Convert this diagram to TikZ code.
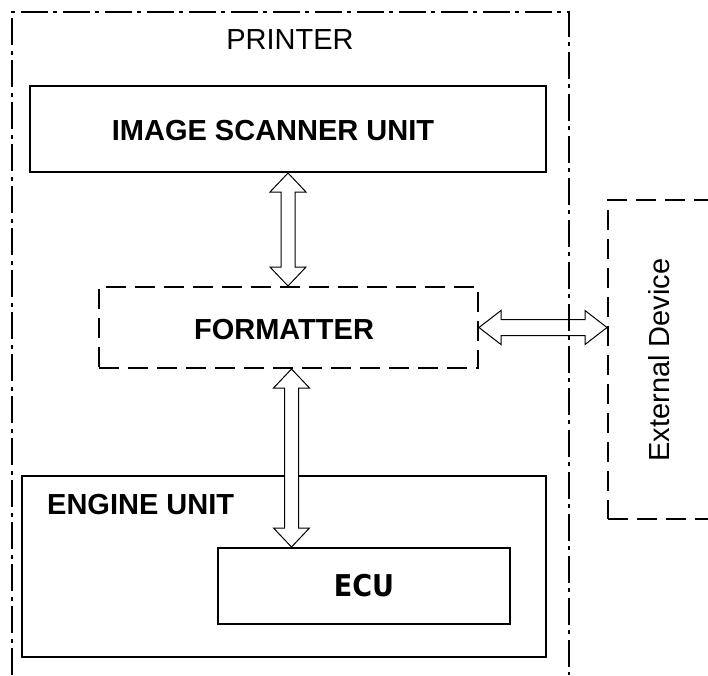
\documentclass[tikz,border=0pt]{standalone}
\usepackage{fontspec}
\setmainfont{Liberation Sans}
\newfontfamily\ecufont{DejaVu Sans Condensed}
\usetikzlibrary{calc}

\tikzset{
	unitbox/.style = {draw, rectangle, line width = 2pt, inner sep = 0pt},
	dashbox/.style = {draw, rectangle, line width = 2pt, dash pattern = on 20pt off 9pt, inner sep = 0pt},
	frameline/.style = {line width = 2pt, dash pattern = on 27pt off 5pt on 4pt off 6pt},
	title/.style = {font = \fontsize{29}{34}\selectfont\bfseries, inner sep = 0pt},
	plain/.style = {font = \fontsize{29}{34}\selectfont, inner sep = 0pt},
	fatarrow/.style = {draw, line width = 1pt, fill = white, line join = miter}
}

%	hollow double arrows
\newcommand{\vfatarrow}[2]{%
	\draw[fatarrow] let \p1 = (#1), \p2 = (#2) in
		(\x1, \y1) -- (\x1 + 18pt, \y1 - 19pt) -- (\x1 + 7pt, \y1 - 19pt) -- (\x1 + 7pt, \y2 + 19pt)
		-- (\x1 + 18pt, \y2 + 19pt) -- (\x1, \y2) -- (\x1 - 18pt, \y2 + 19pt) -- (\x1 - 7pt, \y2 + 19pt)
		-- (\x1 - 7pt, \y1 - 19pt) -- (\x1 - 18pt, \y1 - 19pt) -- cycle;}
\newcommand{\hfatarrow}[2]{%
	\draw[fatarrow] let \p1 = (#1), \p2 = (#2) in
		(\x1, \y1) -- (\x1 + 22pt, \y1 + 17pt) -- (\x1 + 22pt, \y1 + 8pt) -- (\x2 - 22pt, \y1 + 8pt)
		-- (\x2 - 22pt, \y1 + 17pt) -- (\x2, \y1) -- (\x2 - 22pt, \y1 - 17pt) -- (\x2 - 22pt, \y1 - 8pt)
		-- (\x1 + 22pt, \y1 - 8pt) -- (\x1 + 22pt, \y1 - 17pt) -- cycle;}

\begin{document}
\begin{tikzpicture}[x = 1pt, y = -1pt]
	\useasboundingbox (0, 0) rectangle (708, 675);
	
	%	units
	\node[unitbox, minimum width = 516pt, minimum height = 86pt] (scanner) at (288, 129) {};
	\node[dashbox, minimum width = 379pt, minimum height = 81pt] (formatter) at (288.5, 327.5) {};
	\node[unitbox, minimum width = 524pt, minimum height = 181pt] (engine) at (284, 566.5) {};
	\node[unitbox, minimum width = 292pt, minimum height = 76pt, font = \fontsize{30}{34}\ecufont\bfseries] (ecu) at (364, 586) {ECU};
	\node[dashbox, minimum width = 140pt, minimum height = 319pt] (extdev) at (678, 359.5) {};
	
	%	labels
	\node[title] (scannerlabel) at (273, 131) {IMAGE SCANNER UNIT};
	\node[title] (formatterlabel) at (284, 330) {FORMATTER};
	\node[title, anchor = west] (enginelabel) at (47, 505) {ENGINE UNIT};
	\node[plain, rotate = 90] (extdevlabel) at (659, 360) {External Device};
	\node[plain] (printerlabel) at (290, 40) {PRINTER};
	
	%	arrows
	\vfatarrow{scanner.south}{formatter.north}
	\vfatarrow{[xshift = 3pt]formatter.south}{ecu.north}
	\hfatarrow{formatter.east}{extdev.west}
	
	%	printer frame
	\draw[frameline] (12, 675) |- (569, 12) -- (569, 675);
\end{tikzpicture}
\end{document}
